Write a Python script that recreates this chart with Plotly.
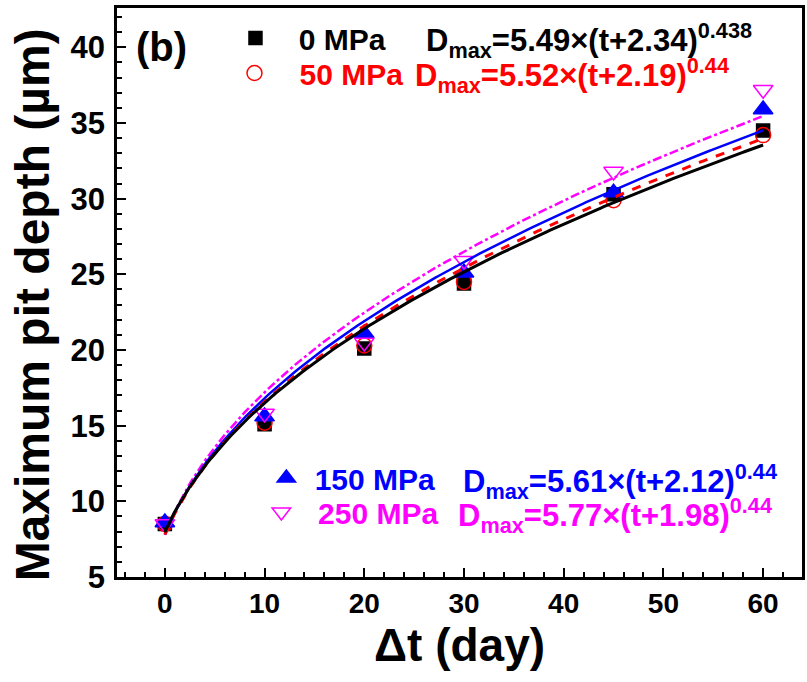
import numpy as np
import plotly.graph_objects as go

# ---- data ----
days = [0, 10, 20, 30, 45, 60]
depth_0 = [8.5, 15.1, 20.1, 24.4, 30.3, 34.5]
depth_50 = [8.5, 15.2, 20.3, 24.5, 29.9, 34.2]
depth_150 = [8.6, 15.6, 21.1, 25.1, 30.4, 35.9]
depth_250 = [8.5, 15.8, 20.5, 25.9, 31.8, 37.2]

stress_labels = ["0 MPa", "50 MPa", "150 MPa", "250 MPa"]
fit_a = [5.49, 5.52, 5.61, 5.77]
fit_c = [2.34, 2.19, 2.12, 1.98]
fit_b = [0.438, 0.44, 0.44, 0.44]
fit_b_text = ["0.438", "0.44", "0.44", "0.44"]

x_ticks = [0, 10, 20, 30, 40, 50, 60]
y_ticks = [5, 10, 15, 20, 25, 30, 35, 40]

colors = ["black", "red", "blue", "magenta"]
symbols = ["square", "circle-open", "triangle-up", "triangle-down-open"]
msizes = [13, 15, 17, 17]
dashes = ["solid", "dash", "solid", "dashdot"]
lwidths = [3, 3, 2.5, 2.5]
legend_ids = ["legend", "legend2", "legend3", "legend4"]
label_pad = ["\u2002\u00a0", "\u00a0\u00a0\u00a0", "\u00a0", "\u00a0\u00a0"]

series = [depth_0, depth_50, depth_150, depth_250]

BOLD = "Liberation Sans, Arial, sans-serif"

fig = go.Figure()

# markers
for i in range(4):
    fig.add_trace(go.Scatter(
        x=days, y=series[i], mode="markers",
        name=f'<span style="color:{colors[i]}">{label_pad[i]}{stress_labels[i]}</span>',
        legend=legend_ids[i],
        marker=dict(symbol=symbols[i], size=msizes[i], color=colors[i],
                    line=dict(color=colors[i], width=1.5)),
        showlegend=True,
    ))

# fit curves (from the equations shown on the chart)
t_fit = np.linspace(days[0], days[-1], 200)
for i in [3, 2, 1, 0]:
    y_fit = fit_a[i] * (t_fit + fit_c[i]) ** fit_b[i]
    fig.add_trace(go.Scatter(
        x=t_fit, y=y_fit, mode="lines", showlegend=False,
        line=dict(color=colors[i], width=lwidths[i], dash=dashes[i]),
        hoverinfo="skip",
    ))

W, H = 807, 682
L, R, T, B = 117, 2, 8, 105
pw, ph = W - L - R, H - T - B


def px(x):
    return (x - L) / pw


def py(y):
    return (H - B - y) / ph


eq_pos = [(425, 40), (414, 75), (463, 481), (457, 515)]
annotations = []
for i in range(4):
    annotations.append(dict(
        xref="paper", yref="paper", x=px(eq_pos[i][0]), y=py(eq_pos[i][1]),
        xanchor="left", yanchor="middle", showarrow=False,
        text=f"D<sub>max</sub>={fit_a[i]:.2f}×(t+{fit_c[i]:.2f})<sup>{fit_b_text[i]}</sup>",
        font=dict(family=BOLD, size=31, color=colors[i], weight="bold"),
    ))
annotations.append(dict(
    xref="paper", yref="paper", x=px(162), y=py(47),
    xanchor="center", yanchor="middle", showarrow=False, text="(b)",
    font=dict(family=BOLD, size=40, color="black", weight="bold"),
))
annotations.append(dict(
    xref="paper", yref="paper", x=px(32), y=py(305),
    xanchor="center", yanchor="middle", showarrow=False, textangle=-90,
    text="Maximum pit depth (µm)",
    font=dict(family=BOLD, size=48, color="black", weight="bold"),
))

axis_common = dict(
    showline=True, linecolor="black", linewidth=2.5, mirror=True,
    ticks="inside", ticklen=9, tickwidth=2, tickcolor="black",
    showgrid=False, zeroline=False,
)

# legend marker centres (px) -> legend boxes
leg_marker = [(251, 40), (250, 75), (282, 480), (277, 514)]
legend_layout = {}
for i, lid in enumerate(legend_ids):
    mx, my = leg_marker[i]
    legend_layout[lid] = dict(
        x=px(mx - 15), y=py(my - 28), xanchor="left", yanchor="top",
        bgcolor="rgba(0,0,0,0)", borderwidth=0,
        font=dict(family=BOLD, size=30, color="black", weight="bold"),
        tracegroupgap=0, itemwidth=30,
    )

fig.update_layout(
    width=W, height=H,
    margin=dict(l=L, r=R, t=T, b=B),
    paper_bgcolor="white", plot_bgcolor="white",
    xaxis=dict(
        range=[-4.8, 63.9], tickvals=x_ticks,
        minor=dict(dtick=2, tick0=0, ticks="inside", ticklen=5, tickwidth=1.5, tickcolor="black"),
        tickfont=dict(family=BOLD, size=28, color="black", weight="bold"),
        title=dict(text="Δt (day)", font=dict(family=BOLD, size=46, color="black", weight="bold"), standoff=4),
        **axis_common,
    ),
    yaxis=dict(
        range=[5, 42.6], tickvals=y_ticks,
        minor=dict(dtick=1, tick0=0, ticks="inside", ticklen=5, tickwidth=1.5, tickcolor="black"),
        tickfont=dict(family=BOLD, size=31, color="black", weight="bold"),
        ticklabelstandoff=3,
        **axis_common,
    ),
    annotations=annotations,
    **legend_layout,
)

fig.write_html("out.html")
